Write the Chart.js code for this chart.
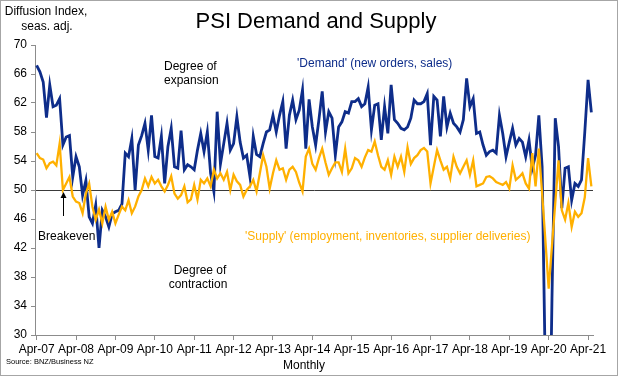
<!DOCTYPE html>
<html>
<head>
<meta charset="utf-8">
<script src="https://cdn.jsdelivr.net/npm/chart.js@4.4.1/dist/chart.umd.min.js"></script>
<style>
  html, body { margin: 0; padding: 0; background: #fff; }
  #wrap { width: 620px; height: 378px; position: relative; }
  canvas { display: block; }
</style>
</head>
<body>
<div id="wrap"><canvas id="c" width="620" height="378"></canvas></div>
<script>
// ---- Data (monthly, Apr-07 .. May-21) ----
const startYear = 2007;
const startMonth = 3; // April (0-based)
const monthNames = ['Jan','Feb','Mar','Apr','May','Jun','Jul','Aug','Sep','Oct','Nov','Dec'];

const tickLabels = ['Apr-07','Apr-08','Apr-09','Apr-10','Apr-11','Apr-12','Apr-13',
  'Apr-14','Apr-15','Apr-16','Apr-17','Apr-18','Apr-19','Apr-20','Apr-21'];

const demand = [
  // Apr-07 .. Mar-10
  67.2, 66.3, 64.9, 60.0, 64.5, 61.5, 61.7, 62.6, 56.2, 57.3, 57.5, 51.8,
  54.6, 53.2, 49.3, 51.3, 46.3, 45.4, 47.9, 42.0, 47.2, 46.3, 44.9, 46.7,
  47.0, 47.2, 48.1, 55.1, 54.6, 57.1, 50.0, 56.2, 57.5, 59.2, 55.5, 60.3,
  // Apr-10 .. Mar-14
  54.6, 54.4, 57.4, 50.9, 56.0, 58.5, 53.2, 53.0, 58.2, 52.8, 53.5, 53.2,
  52.8, 55.5, 57.8, 55.3, 58.0, 52.3, 49.8, 60.8, 53.6, 56.4, 59.2, 55.5,
  56.4, 60.1, 56.6, 54.4, 54.8, 51.8, 57.4, 54.9, 54.6, 56.4, 58.0, 58.3,
  60.3, 58.0, 60.3, 62.2, 55.7, 60.3, 62.4, 59.7, 61.0, 63.8, 55.7, 62.5,
  // Apr-14 .. Mar-18
  58.7, 56.2, 59.7, 63.6, 58.0, 60.8, 59.9, 54.8, 58.7, 59.4, 60.8, 60.6,
  62.2, 62.2, 62.6, 61.5, 61.9, 64.2, 58.3, 61.7, 61.9, 56.9, 61.5, 57.8,
  64.5, 59.7, 59.2, 58.5, 58.3, 58.7, 59.9, 62.4, 61.9, 61.9, 62.2, 63.3,
  56.2, 62.9, 62.4, 57.4, 62.9, 58.7, 60.6, 59.2, 58.7, 58.0, 59.7, 65.4,
  // Apr-18 .. May-21
  61.5, 62.6, 57.8, 58.0, 56.2, 54.8, 55.3, 55.5, 55.1, 60.3, 57.8, 54.6,
  56.6, 58.5, 56.2, 57.1, 56.6, 54.6, 56.9, 53.0, 54.8, 60.3, 53.2, 24.0,
  5.0, 35.0, 59.9, 56.0, 47.5, 53.0, 53.2, 48.6, 50.9, 50.5, 51.4, 58.0,
  65.2, 60.7
];

const supply = [
  // Apr-07 .. Mar-10
  55.1, 54.4, 54.2, 53.0, 53.7, 53.9, 53.4, 56.4, 50.0, 50.9, 51.8, 49.1,
  48.4, 48.2, 46.8, 49.5, 50.9, 47.7, 45.9, 47.3, 45.4, 47.7, 45.9, 47.0,
  45.4, 46.6, 47.7, 47.2, 48.6, 46.8, 47.7, 49.1, 50.0, 51.6, 50.5, 51.8,
  // Apr-10 .. Mar-14
  50.9, 51.4, 50.5, 49.8, 50.7, 51.9, 49.5, 48.8, 49.3, 50.5, 48.3, 48.7,
  50.7, 48.7, 51.4, 50.9, 51.6, 50.5, 52.8, 51.6, 52.3, 51.4, 52.5, 50.0,
  52.1, 51.2, 50.7, 49.1, 50.0, 50.5, 51.4, 49.8, 52.3, 54.8, 53.2, 50.2,
  52.3, 54.1, 52.8, 53.0, 51.4, 52.8, 53.2, 52.5, 51.0, 49.8, 54.6, 55.7,
  // Apr-14 .. Mar-18
  53.6, 52.8, 54.4, 55.7, 53.8, 52.1, 53.0, 53.8, 53.8, 52.5, 55.7, 52.3,
  53.0, 54.4, 54.1, 53.2, 54.5, 55.5, 55.3, 56.7, 54.8, 53.2, 52.8, 54.1,
  52.1, 54.6, 53.2, 54.6, 52.5, 55.9, 53.6, 54.4, 54.8, 55.5, 55.8, 55.3,
  50.9, 53.2, 55.5, 54.1, 52.8, 53.2, 51.6, 54.6, 53.2, 52.3, 53.2, 54.1,
  // Apr-18 .. May-21
  52.1, 54.1, 50.5, 50.7, 50.9, 51.8, 51.9, 51.6, 51.1, 50.9, 50.7, 51.1,
  50.2, 53.4, 51.4, 51.8, 52.3, 50.9, 50.2, 55.1, 50.5, 55.7, 49.5, 43.0,
  36.4, 42.3, 48.2, 54.1, 47.2, 45.9, 48.2, 44.9, 47.0, 46.3, 46.8, 49.0,
  54.4, 50.5
];

const categories = demand.map((_, i) => {
  const mm = startMonth + i;
  const yy = (startYear + Math.floor(mm / 12)) % 100;
  return monthNames[mm % 12] + '-' + String(yy).padStart(2, '0');
});

const breakeven = 50;
const breakevenIndex = 8;

// ---- Styles ----
const FONT = "'Liberation Sans', Arial, Helvetica, sans-serif";
const BLUE = '#0E2D8A';
const ORANGE = '#FFB000';
const AXIS = '#8c8c8c';

Chart.defaults.font.family = FONT;
Chart.defaults.color = '#000';

const decor = {
  id: 'decor',
  beforeDraw(chart) {
    const c = chart.ctx;
    c.save();
    c.fillStyle = '#fff';
    c.fillRect(0, 0, chart.width, chart.height);
    c.restore();
  },
  afterDraw(chart) {
    const c = chart.ctx;
    const xs = chart.scales.x, ys = chart.scales.y;
    c.save();
    c.textBaseline = 'middle';

    // Title
    c.fillStyle = '#000';
    c.textAlign = 'center';
    c.font = '22px ' + FONT;
    c.fillText('PSI Demand and Supply', 316, 22);

    // Y axis caption
    c.font = '12px ' + FONT;
    c.fillText('Diffusion Index,', 46, 12);
    c.fillText('seas. adj.', 47, 27);

    // X axis caption
    c.fillText('Monthly', 304, 366);

    // Contraction note
    c.fillText('Degree of', 200, 271);
    c.fillText('contraction', 198, 285);

    // Expansion note
    c.textAlign = 'left';
    c.fillText('Degree of', 164, 67);
    c.fillText('expansion', 164, 81);

    // Breakeven
    c.fillText('Breakeven', 38, 237);

    // Series labels
    c.fillStyle = BLUE;
    c.fillText("'Demand' (new orders, sales)", 297, 64);
    c.fillStyle = ORANGE;
    c.fillText("'Supply' (employment, inventories, supplier deliveries)", 245, 237);

    // Source
    c.fillStyle = '#000';
    c.font = '7.5px ' + FONT;
    c.fillText('Source: BNZ/Business NZ', 6, 362);

    // Arrow to breakeven
    const ax = Math.round(xs.getPixelForValue(breakevenIndex)) + 0.5;
    const ay = ys.getPixelForValue(breakeven);
    c.strokeStyle = '#000';
    c.lineWidth = 1;
    c.beginPath();
    c.moveTo(ax, ay + 26);
    c.lineTo(ax, ay + 6);
    c.stroke();
    c.fillStyle = '#000';
    c.beginPath();
    c.moveTo(ax, ay + 2);
    c.lineTo(ax - 3, ay + 8);
    c.lineTo(ax + 3, ay + 8);
    c.closePath();
    c.fill();

    // Outer frame
    c.strokeStyle = '#a6a6a6';
    c.lineWidth = 1;
    c.strokeRect(0.5, 0.5, 617, 375);
    c.restore();
  }
};

new Chart(document.getElementById('c'), {
  type: 'line',
  data: {
    labels: categories,
    datasets: [
      {
        label: 'Supply',
        data: supply,
        borderColor: ORANGE,
        borderWidth: 2.3,
        pointRadius: 0,
        tension: 0,
        clip: 0,
        order: 0
      },
      {
        label: 'Demand',
        data: demand,
        borderColor: BLUE,
        borderWidth: 2.8,
        pointRadius: 0,
        tension: 0,
        clip: 0,
        order: 1
      }
    ]
  },
  options: {
    responsive: false,
    animation: false,
    events: [],
    layout: { padding: { left: 0, right: 27, top: 45, bottom: 0 } },
    plugins: { legend: { display: false }, tooltip: { enabled: false }, title: { display: false } },
    scales: {
      x: {
        type: 'category',
        offset: true,
        afterFit(s) { s.height = 43; },
        grid: {
          drawOnChartArea: false,
          offset: false,
          tickLength: 5,
          tickColor: (ctx) => (ctx.index % 12 === 0 ? AXIS : 'rgba(0,0,0,0)'),
          color: 'rgba(0,0,0,0)'
        },
        border: { display: true, color: AXIS, width: 1 },
        ticks: {
          autoSkip: false,
          maxRotation: 0,
          minRotation: 0,
          padding: 2,
          color: '#000',
          font: { size: 12, family: FONT },
          callback: (v, i) => (i % 12 === 0 ? tickLabels[i / 12] : '')
        }
      },
      y: {
        min: 30,
        max: 70,
        afterFit(s) { s.width = 35; },
        grid: {
          drawOnChartArea: true,
          tickLength: 4,
          tickColor: AXIS,
          color: (ctx) => (ctx.tick && ctx.tick.value === breakeven ? '#3a3a3a' : 'rgba(0,0,0,0)'),
          lineWidth: 1
        },
        border: { display: true, color: AXIS, width: 1 },
        ticks: {
          stepSize: 4,
          padding: 4,
          color: '#000',
          font: { size: 12, family: FONT }
        }
      }
    }
  },
  plugins: [decor]
});
</script>
</body>
</html>
